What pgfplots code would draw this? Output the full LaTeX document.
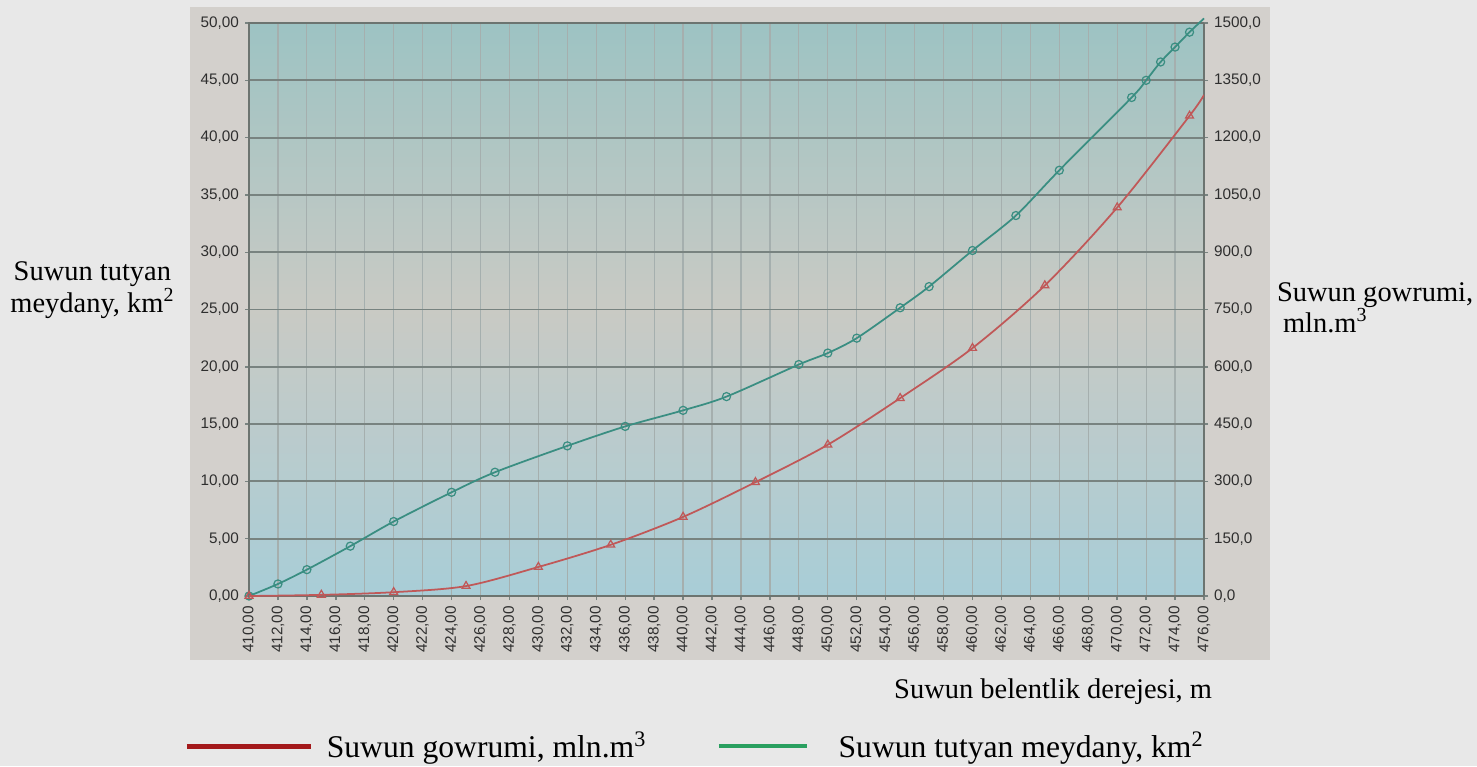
\documentclass[border=0pt]{standalone}
\usepackage{fontspec}
\setmainfont{Liberation Serif}
\newfontfamily\arial{Liberation Sans}
\usepackage{pgfplots}
\pgfplotsset{compat=1.18}

\definecolor{pagebg}{HTML}{E8E8E8}
\definecolor{framebg}{HTML}{D3D0CC}
\definecolor{plottop}{HTML}{9DC3C3}
\definecolor{plotmid}{HTML}{C9CAC4}
\definecolor{plotbot}{HTML}{A8CDD7}
\definecolor{hgrid}{HTML}{788380}
\definecolor{vgrid}{HTML}{A5AFAE}
\definecolor{spine}{HTML}{6C7470}
\definecolor{ticktext}{HTML}{2E2E2E}
\definecolor{areacol}{HTML}{3A8E82}
\definecolor{volcol}{HTML}{C05858}
\definecolor{legred}{HTML}{A3191B}
\definecolor{leggreen}{HTML}{2AA060}

\pgfplotsset{
  common/.style={
    at={(4.98cm,3.40cm)}, anchor=south west,
    scale only axis, width=19.10cm, height=11.46cm,
    xmin=410, xmax=476,
    tick align=outside, major tick length=0.08cm,
    every tick/.style={hgrid, line width=0.8pt},
    tick label style={font=\arial\fontsize{8.7}{10}\selectfont, text=ticktext},
    /pgf/number format/assume math mode=true,
  },
}

\begin{document}
\begin{tikzpicture}
\begin{scope}[x=0.02cm, y=0.02cm]
  \fill[pagebg] (0,0) rectangle (1477,766);
  \fill[framebg] (190,106) rectangle (1270,759);
\end{scope}

% left axis: flooded area, km2
\begin{axis}[common,
  ymin=0, ymax=50,
  axis line style={spine, line width=1.2pt},
  axis background/.style={top color=plottop, bottom color=plotbot, middle color=plotmid},
  xtick={410,412,...,476},
  xticklabel style={rotate=90, anchor=east,
    /pgf/number format/.cd, fixed, fixed zerofill, precision=2, use comma, 1000 sep={}},
  ytick={0,5,...,50},
  yticklabel style={/pgf/number format/.cd, fixed, fixed zerofill, precision=2, use comma, 1000 sep={}},
  ytick pos=left, xtick pos=bottom,
  grid=major,
  major x grid style={vgrid, line width=0.7pt},
  major y grid style={hgrid, line width=1.1pt},
  ylabel={Suwun tutyan\\meydany, km\textsuperscript{2}},
  ylabel style={rotate=-90, at={(rel axis cs:-0.164,0.534)}, anchor=center,
    align=center, font=\fontsize{16.2}{18.2}\selectfont},
  xlabel={Suwun belentlik derejesi, m},
  xlabel style={at={(rel axis cs:0.842,-0.1675)}, anchor=center,
    font=\fontsize{16.2}{18.2}\selectfont},
  clip=false,
]
\addplot[areacol, line width=1pt, smooth, tension=0.5,
  mark=o, mark size=2.3pt, mark options={line width=0.7pt},
  mark indices={1,2,3,4,5,6,7,8,9,10,11,12,13,14,15,16,17,18,19,20,21,22,23,24}]
  coordinates {
  (410,0) (412,1.05) (414,2.3) (417,4.35) (420,6.5) (424,9.05) (427,10.8)
  (432,13.1) (436,14.8) (440,16.2) (443,17.4) (448,20.2) (450,21.2)
  (452,22.5) (455,25.15) (457,27.0) (460,30.15) (463,33.2) (466,37.15)
  (471,43.5) (472,45.0) (473,46.6) (474,47.9) (475,49.2) (476,50.4)
  };
\end{axis}

% right axis: volume, mln m3
\begin{axis}[common,
  ymin=0, ymax=1500,
  axis x line=none,
  axis y line*=right,
  axis line style={spine, line width=1.2pt},
  ytick={0,150,...,1500},
  yticklabel style={/pgf/number format/.cd, fixed, fixed zerofill, precision=1, use comma, 1000 sep={}},
  ylabel={Suwun gowrumi,\\\hspace{0.12cm}mln.m\textsuperscript{3}},
  ylabel style={rotate=-90, at={(rel axis cs:1.070,0.503)}, anchor=west,
    align=left, font=\fontsize{16.2}{18.2}\selectfont},
  legend columns=2,
  legend style={at={(rel axis cs:-0.068,-0.262)}, anchor=west,
    draw=none, fill=none, inner sep=0pt,
    font=\fontsize{18}{20}\selectfont,
    /tikz/every even column/.append style={column sep=1.34cm}},
]
\addplot[volcol, line width=1pt, smooth, tension=0.5,
  mark=triangle, mark size=2.6pt, mark options={line width=0.7pt},
  mark indices={1,2,3,4,5,6,7,8,9,10,11,12,13,14},
  forget plot]
  coordinates {
  (410,0) (415,3) (420,10) (425,26) (430,76) (435,134) (440,207)
  (445,298) (450,396) (455,518) (460,649) (465,813) (470,1017)
  (475,1257) (476,1312)
  };
\addlegendimage{legend image code/.code={\draw[legred, line width=0.1cm] (0,0) -- (2.48cm,0); \path (2.72cm,0);}}
\addlegendentry{Suwun gowrumi, mln.m\textsuperscript{3}}
\addlegendimage{legend image code/.code={\draw[leggreen, line width=0.08cm] (0,0) -- (1.76cm,0); \path (2.32cm,0);}}
\addlegendentry{Suwun tutyan meydany, km\textsuperscript{2}}
\end{axis}

\pgfresetboundingbox
\path (0,0) rectangle (29.54cm,15.32cm);
\end{tikzpicture}
\end{document}
